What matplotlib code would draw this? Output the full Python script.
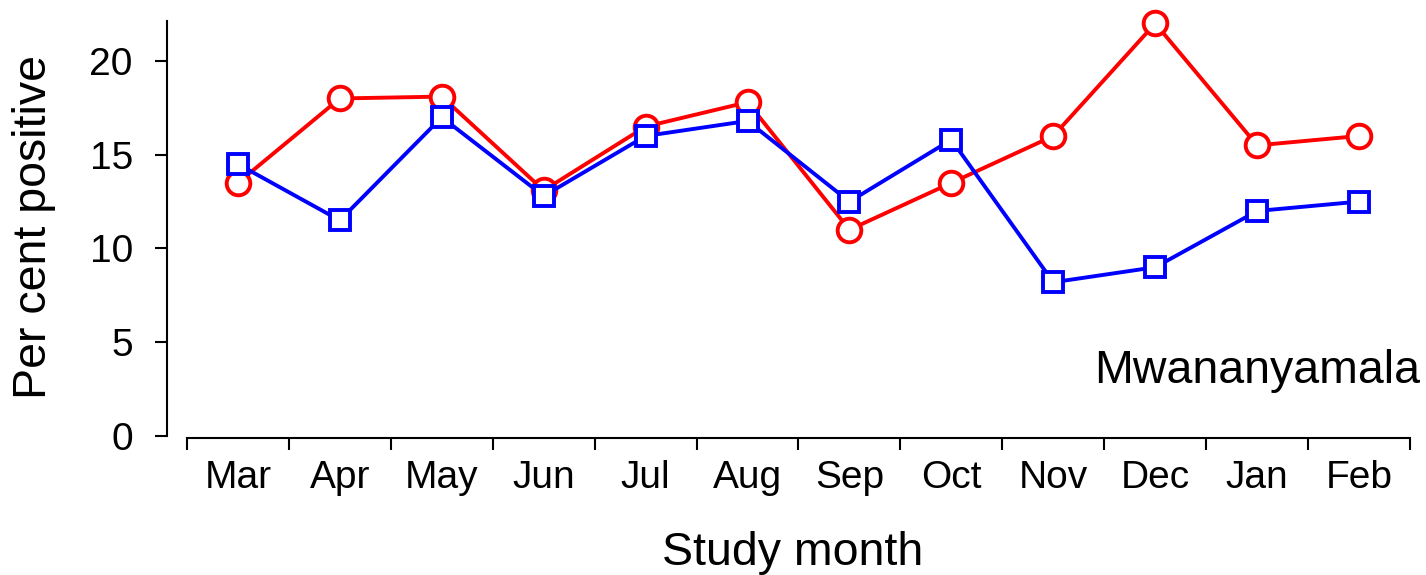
import numpy as np
import matplotlib.pyplot as plt

plt.rcParams['font.family'] = ['Liberation Sans', 'DejaVu Sans']

# Study months and per cent positive for the two series
months = ['Mar', 'Apr', 'May', 'Jun', 'Jul', 'Aug', 'Sep', 'Oct', 'Nov', 'Dec', 'Jan', 'Feb']
red_vals = [13.5, 18.0, 18.1, 13.1, 16.5, 17.8, 11.0, 13.5, 16.0, 22.0, 15.5, 16.0]
blue_vals = [14.5, 11.5, 17.0, 12.8, 16.0, 16.8, 12.5, 15.8, 8.2, 9.0, 12.0, 12.5]
site = 'Mwananyamala'

x = np.arange(len(months))

fig = plt.figure(figsize=(14.26, 5.75), dpi=100)
ax = fig.add_axes([0.1171, 0.2391, 0.8717, 0.725])

ax.plot(x, red_vals, color='#ff0000', lw=2.8, marker='o', ms=17,
        mfc='white', mec='#ff0000', mew=2.8, clip_on=False, zorder=3)
ax.plot(x, blue_vals, color='#0000ff', lw=2.8, marker='s', ms=15,
        mfc='white', mec='#0000ff', mew=2.8, clip_on=False, zorder=4)

ax.set_xlim(-0.696, 11.5)
ax.set_ylim(-0.08, 22.15)

# spines detached like an R base plot
for s in ['top', 'right']:
    ax.spines[s].set_visible(False)
ax.spines['left'].set_bounds(0, 22.15)
ax.spines['bottom'].set_bounds(-0.5, 11.5)
ax.spines['left'].set_linewidth(1.5)
ax.spines['bottom'].set_linewidth(1.5)

ax.set_yticks([0, 5, 10, 15, 20])
ax.tick_params(axis='y', labelsize=28, length=8.6, width=1.5, pad=16)

# tick marks at month boundaries, labels at month centres
ax.set_xticks(np.arange(-0.5, 12, 1))
ax.set_xticklabels([])
ax.set_xticks(x, minor=True)
ax.set_xticklabels(months, minor=True)
ax.tick_params(axis='x', which='major', length=8.6, width=1.5)
ax.tick_params(axis='x', which='minor', length=0, labelsize=28, pad=16)

ax.set_ylabel('Per cent positive', fontsize=33.5)
ax.yaxis.set_label_coords(-0.089, 0.506)
ax.set_xlabel('Study month', fontsize=33.5)
ax.xaxis.set_label_coords(0.5036, -0.225)

ax.text(11.6, 2.83, site, fontsize=33.5, ha='right', va='baseline', clip_on=False)

fig.savefig('out.png', dpi=100)
